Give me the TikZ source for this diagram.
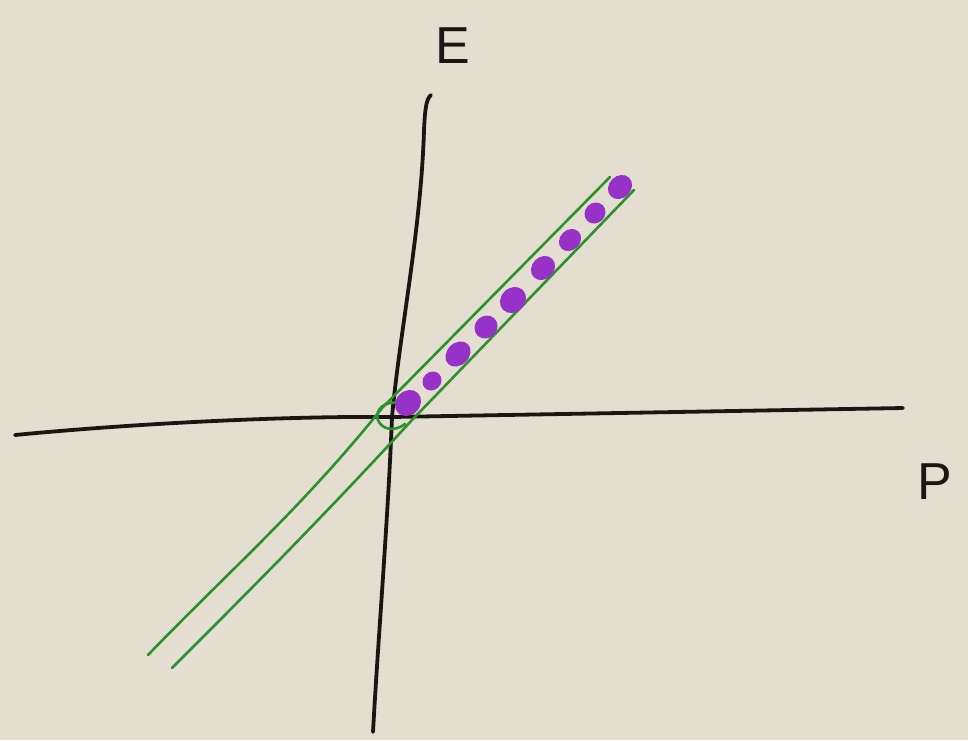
\documentclass[tikz,border=0pt]{standalone}
\usepackage{fontspec}
\setmainfont{Liberation Sans}
\definecolor{paper}{RGB}{228,222,208}
\definecolor{ink}{RGB}{25,22,20}
\definecolor{leaf}{RGB}{45,145,45}
\definecolor{violet}{RGB}{150,50,200}
\begin{document}
\begin{tikzpicture}[x=1pt,y=-1pt,
  axis/.style={draw=ink,line width=3.8pt,line cap=round},
  band/.style={draw=leaf,line width=2.6pt,line cap=round},
  dot/.style={fill=violet},
  lab/.style={font=\fontsize{52}{52}\selectfont,text=ink,inner sep=0pt}]
\fill[paper] (0,0) rectangle (968,740);
\useasboundingbox (0,0) rectangle (968,740);
% axes
\coordinate (xl) at (15,435);
\coordinate (xr) at (903,408);
\coordinate (yt) at (431,95);
\coordinate (yb) at (373,732);
\draw[axis] (xl) .. controls (150,422) and (300,416) .. (392,417) -- (xr);
\draw[axis] (yt) .. controls (426,99) and (425,110) .. (424,130)
  .. controls (421,230) and (400,330) .. (392,417)
  .. controls (388,520) and (378,640) .. (yb);
% green band
\coordinate (u0) at (148,655);
\coordinate (u1) at (610,177);
\coordinate (l0) at (172,668);
\coordinate (l1) at (634,190);
\draw[band] (u0) .. controls (230,570) and (300,510) .. (383,407) -- (u1);
\draw[band] (l0) .. controls (250,590) and (320,520) .. (412,420) -- (l1);
\draw[band] (400,403) .. controls (385,400) and (374,410) .. (378,420) .. controls (382,430) and (395,432) .. (405,424);
% purple dots
\foreach \px/\py/\ra/\rb in {408/403/14/12, 432/381/10/9, 458/354/14/11, 486/327/12/11, 513/300/14/12, 543/268/13/11, 570/240/12/10, 595/213/11/10, 620/187/13/11}
  \fill[dot,shift={(\px,\py)},rotate=45] (0,0) ellipse (\ra pt and \rb pt);
% labels
\node[lab] (E) at (453,46) {E};
\node[lab] (P) at (935,482) {P};
\end{tikzpicture}
\end{document}
